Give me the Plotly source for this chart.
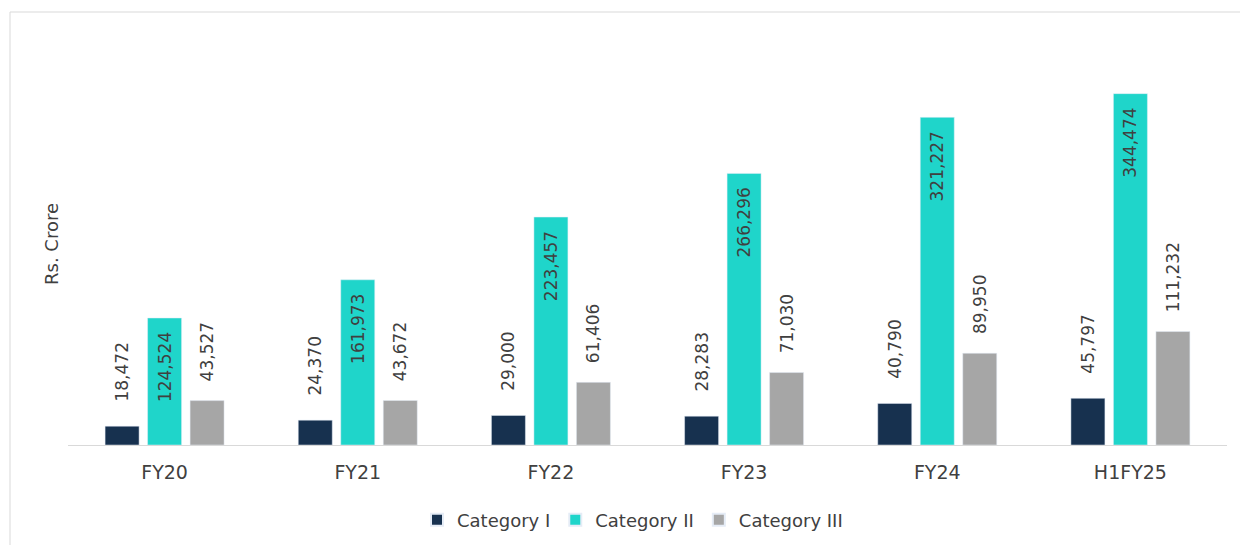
import plotly.graph_objects as go

categories = ["FY20", "FY21", "FY22", "FY23", "FY24", "H1FY25"]
cat1 = [18472, 24370, 29000, 28283, 40790, 45797]
cat2 = [124524, 161973, 223457, 266296, 321227, 344474]
cat3 = [43527, 43672, 61406, 71030, 89950, 111232]
series_names = ["Category I", "Category II", "Category III"]
colors = ["#17314f", "#1fd5ca", "#a6a6a6"]

FONT = "DejaVu Sans"
TXT = "#404040"
NB = "\u00a0"
LBL = 17

def fmt(v):
    return f"{v:,}"

fig = go.Figure()
fig.add_trace(go.Bar(
    x=categories, y=cat1, name=series_names[0], marker_color=colors[0],
    text=[NB * 4 + fmt(v) for v in cat1], textposition="outside", textangle=-90,
    constraintext="none",
    textfont=dict(family=FONT, size=LBL, color=TXT), cliponaxis=False))
fig.add_trace(go.Bar(
    x=categories, y=cat2, name=series_names[1], marker_color=colors[1],
    text=[fmt(v) + NB * 2 for v in cat2], textposition="inside", insidetextanchor="end",
    textangle=-90, constraintext="none",
    textfont=dict(family=FONT, size=LBL, color=TXT)))
fig.add_trace(go.Bar(
    x=categories, y=cat3, name=series_names[2], marker_color=colors[2],
    text=[NB * 3 + fmt(v) for v in cat3], textposition="outside", textangle=-90,
    constraintext="none",
    textfont=dict(family=FONT, size=LBL, color=TXT), cliponaxis=False))

L, R, T, B = 68, 13, 37, 100
W, H = 1240, 545
pw = W - L - R
ph = H - T - B

fig.update_layout(
    width=W, height=H,
    margin=dict(l=L, r=R, t=T, b=B, pad=0, autoexpand=False),
    paper_bgcolor="white", plot_bgcolor="white",
    barmode="group", bargap=0.34, bargroupgap=0.2,
    font=dict(family=FONT, size=16, color=TXT),
    showlegend=True,
    legend=dict(orientation="h", x=0.5 - 15 / pw, xanchor="center",
                y=(445 - 520) / ph, yanchor="middle",
                font=dict(family=FONT, size=18, color=TXT),
                itemsizing="constant", traceorder="normal"),
    xaxis=dict(showline=True, linecolor="#d9d9d9", linewidth=1, automargin=False,
               ticks="", showgrid=False, ticklabelstandoff=10,
               tickfont=dict(family=FONT, size=19, color=TXT)),
    yaxis=dict(range=[0, 400000], visible=False, showgrid=False, automargin=False),
    annotations=[dict(text="Rs. Crore", xref="paper", yref="paper",
                      x=(51 - L) / pw, y=(445 - 244) / ph, textangle=-90,
                      showarrow=False, xanchor="center", yanchor="middle",
                      font=dict(family=FONT, size=18, color=TXT))],
    shapes=[dict(type="rect", xref="paper", yref="paper",
                 x0=(10 - L) / pw, x1=(1280 - L) / pw,
                 y0=(445 - 600) / ph, y1=(445 - 12) / ph,
                 line=dict(color="#d9d9d9", width=1), fillcolor="rgba(0,0,0,0)",
                 layer="below")],
)

fig.write_html("out.html", config={"displayModeBar": False},
               post_script="document.body.style.margin='0px';")
